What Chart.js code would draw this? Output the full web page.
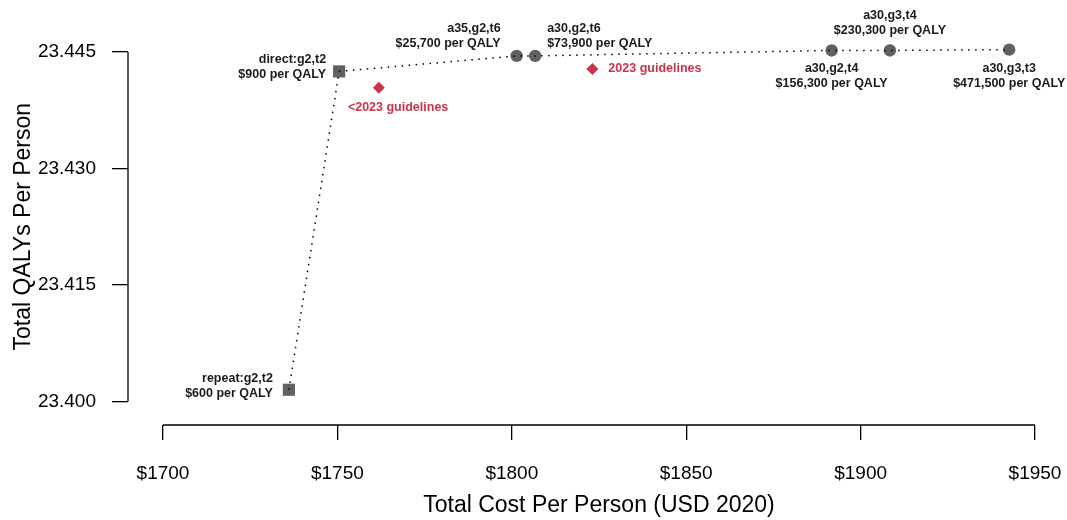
<!DOCTYPE html>
<html>
<head>
<meta charset="utf-8">
<script src="https://cdn.jsdelivr.net/npm/chart.js@4"></script>
<style>
  html, body { margin: 0; padding: 0; background: #fff; }
  #wrap { width: 1067px; height: 520px; position: relative; }
</style>
</head>
<body>
<div id="wrap"><canvas id="chart"></canvas></div>
<script>
// cost-effectiveness frontier
const strategies = ['repeat:g2,t2', 'direct:g2,t2', 'a35,g2,t6', 'a30,g2,t6', 'a30,g2,t4', 'a30,g3,t4', 'a30,g3,t3'];
const costs = [1736.1, 1750.5, 1801.4, 1806.7, 1891.7, 1908.4, 1942.6];
const qalys = [23.4015, 23.4425, 23.4445, 23.4445, 23.4452, 23.4452, 23.4453];
const icers = [600, 900, 25700, 73900, 156300, 230300, 471500];
const markerShapes = ['rect', 'rect', 'circle', 'circle', 'circle', 'circle', 'circle'];

// guideline strategies
const guidelineNames = ['<2023 guidelines', '2023 guidelines'];
const guidelineCosts = [1761.9, 1823.1];
const guidelineQalys = [23.4404, 23.4428];

const xTicks = [1700, 1750, 1800, 1850, 1900, 1950];
const yTicks = [23.400, 23.415, 23.430, 23.445];

// label placement (pixels from the point)
const frontierLabelPos = [
	{ align: 'right', dx: -16, dy: -11 },
	{ align: 'right', dx: -13, dy: -11.5 },
	{ align: 'right', dx: -16, dy: -27 },
	{ align: 'left', dx: 12, dy: -27 },
	{ align: 'center', dx: 0, dy: 18 },
	{ align: 'center', dx: 0, dy: -34.5 },
	{ align: 'center', dx: 0, dy: 19 },
];
const guidelineLabelPos = [
	{ align: 'left', dx: -31, dy: 19.5 },
	{ align: 'left', dx: 16, dy: -1 },
];

const FONT = '"Liberation Sans", Arial, Helvetica, sans-serif';
const GREY = '#616161';
const RED = '#c9344a';

const fmtIcer = v => '$' + v.toLocaleString('en-US') + ' per QALY';

const frontierPts = costs.map((c, i) => ({ x: c, y: qalys[i] }));
const guidelinePts = guidelineCosts.map((c, i) => ({ x: c, y: guidelineQalys[i] }));

// fixed scale box sizes, no extra label padding around the plot
const fixBox = (w, h) => s => {
	if (w !== null) s.width = w;
	if (h !== null) s.height = h;
	s.paddingLeft = s.paddingRight = s.paddingTop = s.paddingBottom = 0;
};

const annotate = {
	id: 'annotate',
	afterDatasetsDraw(chart) {
		const ctx = chart.ctx;
		const xs = chart.scales.x, ys = chart.scales.y;
		ctx.save();

		// R-style axis lines spanning first..last tick
		ctx.strokeStyle = '#000';
		ctx.lineWidth = 1.3;
		ctx.beginPath();
		const ax = chart.chartArea.bottom;
		ctx.moveTo(xs.getPixelForValue(xTicks[0]), ax);
		ctx.lineTo(xs.getPixelForValue(xTicks[xTicks.length - 1]), ax);
		const ay = chart.chartArea.left;
		ctx.moveTo(ay, ys.getPixelForValue(yTicks[0]));
		ctx.lineTo(ay, ys.getPixelForValue(yTicks[yTicks.length - 1]));
		ctx.stroke();

		// point labels
		ctx.font = 'bold 12.5px ' + FONT;
		ctx.textBaseline = 'middle';
		ctx.fillStyle = '#1a1a1a';
		strategies.forEach((name, i) => {
			const p = frontierLabelPos[i];
			const px = xs.getPixelForValue(costs[i]) + p.dx;
			const py = ys.getPixelForValue(qalys[i]) + p.dy;
			ctx.textAlign = p.align;
			ctx.fillText(name, px, py);
			ctx.fillText(fmtIcer(icers[i]), px, py + 14.7);
		});
		ctx.fillStyle = RED;
		guidelineNames.forEach((name, i) => {
			const p = guidelineLabelPos[i];
			ctx.textAlign = p.align;
			ctx.fillText(name, xs.getPixelForValue(guidelineCosts[i]) + p.dx, ys.getPixelForValue(guidelineQalys[i]) + p.dy);
		});

		// axis titles
		ctx.fillStyle = '#000';
		ctx.font = '23px ' + FONT;
		ctx.textAlign = 'center';
		ctx.fillText('Total Cost Per Person (USD 2020)', (xs.getPixelForValue(xTicks[0]) + xs.getPixelForValue(xTicks[xTicks.length - 1])) / 2, 506);
		ctx.translate(24, (ys.getPixelForValue(yTicks[0]) + ys.getPixelForValue(yTicks[yTicks.length - 1])) / 2);
		ctx.rotate(-Math.PI / 2);
		ctx.fillText('Total QALYs Per Person', 0, 0);
		ctx.restore();
	}
};

new Chart(document.getElementById('chart'), {
	type: 'scatter',
	data: {
		datasets: [
			{
				label: 'frontier line',
				data: frontierPts,
				showLine: true,
				borderColor: '#000',
				borderWidth: 1.5,
				borderDash: [1.5, 5.5],
				pointRadius: 0,
				order: 0,
			},
			{
				label: 'strategies',
				data: frontierPts,
				pointStyle: markerShapes,
				pointRadius: markerShapes.map(s => s === 'rect' ? 8.6 : 6.2),
				backgroundColor: GREY,
				borderWidth: 0,
				order: 1,
			},
			{
				label: 'guidelines',
				data: guidelinePts,
				pointStyle: 'rectRot',
				pointRadius: 6,
				backgroundColor: RED,
				borderWidth: 0,
				order: 1,
			},
		]
	},
	options: {
		responsive: true,
		maintainAspectRatio: false,
		devicePixelRatio: 1,
		animation: false,
		layout: { padding: 0, autoPadding: false },
		plugins: {
			legend: { display: false },
			tooltip: { enabled: false },
		},
		scales: {
			x: {
				type: 'linear',
				min: 1689.97,
				max: 1959.17,
				afterFit: fixBox(null, 95),
				afterBuildTicks: s => { s.ticks = xTicks.map(v => ({ value: v })); },
				border: { display: false },
				grid: { drawOnChartArea: false, drawTicks: true, tickLength: 15, color: '#000', lineWidth: 1.3 },
				ticks: {
					color: '#000',
					font: { family: FONT, size: 19 },
					padding: 22,
					maxRotation: 0,
					callback: v => '$' + v,
				},
			},
			y: {
				type: 'linear',
				min: 23.396958,
				max: 23.451698,
				afterFit: fixBox(128, null),
				afterBuildTicks: s => { s.ticks = yTicks.map(v => ({ value: v })); },
				border: { display: false },
				grid: { drawOnChartArea: false, drawTicks: true, tickLength: 16, color: '#000', lineWidth: 1.3 },
				ticks: {
					color: '#000',
					font: { family: FONT, size: 19 },
					padding: 16,
					callback: v => v.toFixed(3),
				},
			},
		},
	},
	plugins: [annotate],
});
</script>
</body>
</html>
